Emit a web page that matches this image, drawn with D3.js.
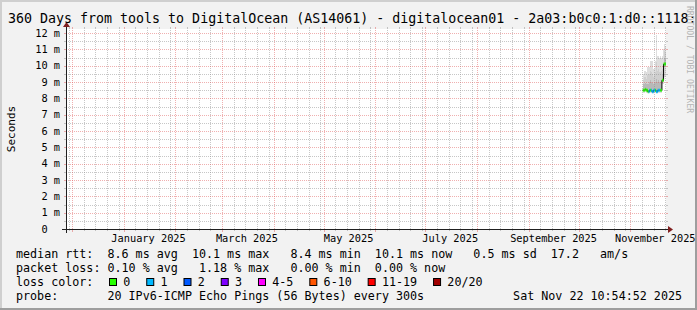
<!DOCTYPE html>
<html>
<head>
<meta charset="utf-8">
<script src="https://cdn.jsdelivr.net/npm/d3@7"></script>
<style>
  body { margin: 0; background: #f2f2f2; }
  text { font-family: "DejaVu Sans Mono", monospace; white-space: pre; }
</style>
</head>
<body>
<script>
// time range of the graph
let endTime = new Date(2025, 10, 22, 10, 54, 52);
let startTime = d3.timeDay.offset(endTime, -360);

// samples (12h consolidation), values in ms
let sampleTimes = [
  "2025-11-08 12:00", "2025-11-09 00:00", "2025-11-09 12:00", "2025-11-10 00:00",
  "2025-11-10 12:00", "2025-11-11 00:00", "2025-11-11 12:00", "2025-11-12 00:00",
  "2025-11-12 12:00", "2025-11-13 00:00", "2025-11-13 12:00", "2025-11-14 00:00",
  "2025-11-14 12:00", "2025-11-15 00:00", "2025-11-15 12:00", "2025-11-16 00:00",
  "2025-11-16 12:00", "2025-11-17 00:00", "2025-11-17 12:00", "2025-11-18 00:00",
  "2025-11-18 12:00", "2025-11-19 00:00", "2025-11-19 12:00", "2025-11-20 00:00",
  "2025-11-20 12:00", "2025-11-21 00:00", "2025-11-21 12:00", "2025-11-22 00:00"
];
let medianMs = [8.5, 8.5, 8.5, 8.55, 8.5, 8.5, 8.4, 8.4, 8.5, 8.5, 8.5, 8.4, 8.4, 8.5,
                8.5, 8.5, 8.4, 8.4, 8.5, 8.5, 8.5, 8.5, 8.5, 9.1, 9.1, 10.1, 10.1, 10.1];
let lossPings = [0, 0, 0, 0, 0, 0, 0, 1, 1, 0, 1, 1, 1, 1, 1, 0, 1, 1, 1, 1, 1, 0, 0, 0, 0, 0, 0, 0];
let smokeMax   = [9.5, 9.6, 9.7, 9.7, 9.6, 9.9, 9.9, 9.8, 9.9, 10.3, 10.3, 10.3, 9.8, 9.8,
                  9.8, 10.3, 11.9, 10.6, 10.6, 11.3, 10.5, 10.6, 10.5, 10.6, 11.0, 11.3, 11.3, 11.2];
let smokeUpper = [9.1, 9.2, 9.3, 9.3, 9.2, 9.4, 9.4, 9.3, 9.5, 9.7, 9.6, 9.5, 9.3, 9.3,
                  9.4, 9.6, 10.2, 9.7, 9.8, 10.0, 9.6, 9.6, 9.7, 9.8, 10.0, 10.8, 10.9, 10.8];
let smokeHigh  = [8.85, 8.85, 8.9, 8.95, 8.85, 8.9, 8.9, 8.85, 9.0, 9.1, 9.0, 8.95, 8.9, 8.9,
                  8.95, 9.0, 9.2, 9.0, 9.1, 9.2, 9.0, 9.0, 9.0, 9.4, 9.5, 10.4, 10.5, 10.4];
let smokeLow   = [8.45, 8.45, 8.45, 8.5, 8.45, 8.45, 8.4, 8.4, 8.45, 8.5, 8.45, 8.4, 8.4, 8.45,
                  8.45, 8.45, 8.4, 8.4, 8.45, 8.5, 8.45, 8.45, 8.45, 9.0, 9.0, 9.8, 9.9, 9.9];
let smokeMin   = [8.35, 8.35, 8.35, 8.4, 8.35, 8.35, 8.3, 8.3, 8.35, 8.35, 8.35, 8.3, 8.3, 8.35,
                  8.35, 8.35, 8.3, 8.3, 8.35, 8.35, 8.35, 8.35, 8.35, 8.9, 8.9, 9.2, 9.3, 9.3];

// axis ticks and legend values
let yTicks = [0, 1, 2, 3, 4, 5, 6, 7, 8, 9, 10, 11, 12];
let medianStats = ["8.6", "10.1", "8.4", "10.1", "0.5", "17.2"];
let lossStats = ["0.10", "1.18", "0.00", "0.00"];
let lossClasses = ["0", "1", "2", "3", "4-5", "6-10", "11-19", "20/20"];
let lossColors = ["#26ff00", "#00b8ff", "#0059ff", "#7e00ff", "#ff00ff", "#ff5500", "#ff0000", "#a10000"];

let config = {
    svg: {width: 697, height: 310},
    plot: {x: 66, y: 29, width: 600, height: 200}
};
let X0 = config.plot.x, X1 = config.plot.x + config.plot.width;
let Y0 = config.plot.y + config.plot.height, Y1 = config.plot.y;
let gridCol = "rgba(143,143,143,0.5)", mgridCol = "rgba(222,79,79,0.45)";

let parseTime = d3.timeParse("%Y-%m-%d %H:%M");
let data = sampleTimes.map((t, i) => ({
    t: parseTime(t),
    next: i + 1 < sampleTimes.length ? parseTime(sampleTimes[i + 1]) : endTime,
    med: medianMs[i], loss: lossPings[i],
    min: smokeMin[i], low: smokeLow[i], high: smokeHigh[i], upper: smokeUpper[i], max: smokeMax[i]
}));

let x = d3.scaleTime().domain([startTime, endTime]).range([X0, X1]);
let y = d3.scaleLinear().domain([0, 12.245]).range([Y0, Y1]);
let lossColor = d3.scaleOrdinal().domain(lossClasses).range(lossColors);

let svg = d3.select("body").append("svg")
    .attr("width", config.svg.width)
    .attr("height", config.svg.height);

// background with 3d shade
svg.append("rect").attr("width", 697).attr("height", 310).attr("fill", "#f2f2f2");
svg.append("path").attr("d", "M0,0H697V2H2V310H0Z").attr("fill", "#cfcfcf");
svg.append("path").attr("d", "M697,0V310H0V308H695V0Z").attr("fill", "#9e9e9e");

svg.append("rect")
    .attr("x", X0).attr("y", Y1)
    .attr("width", config.plot.width).attr("height", config.plot.height)
    .attr("fill", "#ffffff");

// smoke
let smoke = svg.append("g");
[["min", "max", "#dedede"], ["low", "upper", "#cfcfcf"], ["low", "high", "#b8b8b8"]].forEach(([lo, hi, col]) => {
    smoke.append("g").selectAll("rect")
        .data(data)
        .join("rect")
            .attr("x", d => x(d.t))
            .attr("width", d => x(d.next) - x(d.t))
            .attr("y", d => y(d[hi]))
            .attr("height", d => y(d[lo]) - y(d[hi]))
            .attr("fill", col)
            .attr("shape-rendering", "crispEdges");
});

// grid
let grid = svg.append("g").attr("shape-rendering", "crispEdges").attr("stroke-width", 1);
let px = v => Math.round(v) + 0.5;
let months = d3.timeMonth.range(startTime, endTime);
let minorDays = d3.timeDay.every(7).range(startTime, endTime)
    .filter(d => d.getDate() !== 1);

let hLine = (yy, col) => {
    grid.append("line").attr("x1", X0).attr("x2", X1).attr("y1", yy).attr("y2", yy)
        .attr("stroke", col).attr("stroke-dasharray", "1,1");
    grid.append("line").attr("x1", X0 - 2).attr("x2", X0).attr("y1", yy).attr("y2", yy).attr("stroke", col);
    grid.append("line").attr("x1", X1).attr("x2", X1 + 2).attr("y1", yy).attr("y2", yy).attr("stroke", col);
};
let vLine = (xx, col, tick) => {
    grid.append("line").attr("x1", xx).attr("x2", xx).attr("y1", Y0).attr("y2", Y1)
        .attr("stroke", col).attr("stroke-dasharray", "1,1");
    grid.append("line").attr("x1", xx).attr("x2", xx).attr("y1", Y1 - 2).attr("y2", Y1).attr("stroke", col);
    grid.append("line").attr("x1", xx).attr("x2", xx).attr("y1", Y0).attr("y2", Y0 + tick).attr("stroke", col);
};
d3.range(0.5, 12.5, 1).forEach(v => hLine(px(y(v)), gridCol));
minorDays.forEach(d => vLine(px(x(d)), gridCol, 2));
yTicks.filter(v => v > 0).forEach(v => hLine(px(y(v)), mgridCol));
months.forEach(d => vLine(px(x(d)), mgridCol, 3));

// median line: black steps, loss-coloured flats on top
let steps = data.map(d => [d.t, d.med]).concat([[endTime, data[data.length - 1].med]]);
svg.append("path")
    .attr("d", d3.line().x(d => x(d[0])).y(d => y(d[1])).curve(d3.curveStepAfter)(steps))
    .attr("fill", "none").attr("stroke", "#000").attr("stroke-width", 1);
svg.append("g").selectAll("line")
    .data(data)
    .join("line")
        .attr("x1", d => x(d.t)).attr("x2", d => x(d.next))
        .attr("y1", d => y(d.med)).attr("y2", d => y(d.med))
        .attr("stroke", d => lossColor(lossClasses[d.loss]))
        .attr("stroke-width", 3);

// axes and arrows
svg.append("line").attr("x1", X0 - 4).attr("x2", X1 + 4).attr("y1", Y0 + 0.5).attr("y2", Y0 + 0.5)
    .attr("stroke", "#1f1f1f");
svg.append("line").attr("x1", X0 + 0.5).attr("x2", X0 + 0.5).attr("y1", Y0 + 4).attr("y2", Y1 - 4)
    .attr("stroke", "#1f1f1f");
svg.append("path").attr("d", `M${X1 + 2},${Y0 - 3}L${X1 + 2},${Y0 + 4}L${X1 + 7},${Y0 + 0.5}Z`).attr("fill", "#801f1f");
svg.append("path").attr("d", `M${X0 - 3},${Y1 - 2}L${X0 + 4},${Y1 - 2}L${X0 + 0.5},${Y1 - 7}Z`).attr("fill", "#801f1f");

// axis labels
svg.append("g").selectAll("text")
    .data(yTicks)
    .join("text")
        .attr("x", X0 - 6).attr("y", d => y(d) + 3.6)
        .attr("text-anchor", "end")
        .attr("font-size", "10.3px")
        .text(d => d === 0 ? "0  " : d + " m");

svg.append("g").selectAll("text")
    .data(d3.timeMonth.every(2).range(startTime, endTime))
    .join("text")
        .attr("x", d => x(d3.timeDay.offset(d, 15)))
        .attr("y", Y0 + 13)
        .attr("text-anchor", "middle")
        .attr("font-size", "10.3px")
        .text(d3.timeFormat("%B %Y"));

svg.append("text")
    .attr("transform", `translate(15,${(Y0 + Y1) / 2}) rotate(-90)`)
    .attr("text-anchor", "middle")
    .attr("font-size", "11px")
    .text("Seconds");

// title and watermark
svg.append("text")
    .attr("x", 8).attr("y", 23)
    .attr("font-size", "13.3px")
    .text("360 Days from tools to DigitalOcean (AS14061) - digitalocean01 - 2a03:b0c0:1:d0::1118:");
svg.append("text")
    .attr("transform", "translate(687,6) rotate(90)")
    .attr("font-size", "8.1px")
    .attr("fill", "#b4b4b4")
    .text("RRDTOOL / TOBI OETIKER");

// legend
let legend = svg.append("g").attr("font-size", "11.7px");
let m = medianStats, l = lossStats;
legend.append("text").attr("x", 16).attr("y", 258)
    .text(`median rtt:  ${m[0]} ms avg  ${m[1]} ms max   ${m[2]} ms min  ${m[3]} ms now   ${m[4]} ms sd  ${m[5]}   am/s`);
legend.append("text").attr("x", 16).attr("y", 272)
    .text(`packet loss: ${l[0]} % avg   ${l[1]} % max   ${l[2]} % min  ${l[3]} % now`);

legend.append("text").attr("x", 16).attr("y", 286).text("loss color:");
let bx = 109;
lossClasses.forEach(c => {
    legend.append("rect").attr("x", bx + 0.5).attr("y", 278.5).attr("width", 7).attr("height", 7)
        .attr("fill", lossColor(c)).attr("stroke", "#000");
    let t = legend.append("text").attr("x", bx + 14.3).attr("y", 286).text(c);
    bx += 14.3 + t.node().getComputedTextLength() + 15.9;
});
legend.append("text").attr("x", 16).attr("y", 300)
    .text("probe:       20 IPv6-ICMP Echo Pings (56 Bytes) every 300s");
legend.append("text").attr("x", 682).attr("y", 300).attr("text-anchor", "end")
    .text(d3.timeFormat("%a %b %d %H:%M:%S %Y")(endTime));
</script>
</body>
</html>
